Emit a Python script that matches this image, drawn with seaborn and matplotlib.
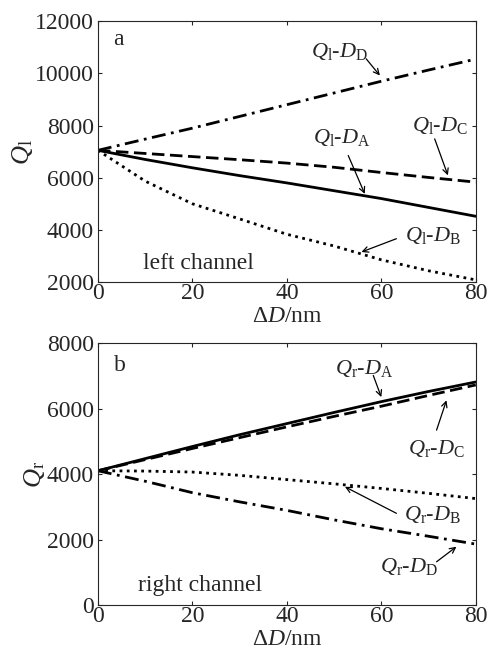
import numpy as np
import pandas as pd
import matplotlib
matplotlib.use('Agg')
import matplotlib.pyplot as plt
import seaborn as sns

dD = [0, 10, 20, 30, 40, 50, 60, 70, 80]

# left channel (panel a)
ql_A = [7050, 6700, 6380, 6080, 5800, 5500, 5200, 4860, 4520]
ql_B = [7050, 5870, 5000, 4420, 3830, 3380, 2850, 2430, 2080]
ql_C = [7050, 6930, 6810, 6690, 6560, 6400, 6200, 6010, 5830]
ql_D = [7050, 7480, 7900, 8350, 8800, 9250, 9700, 10130, 10550]

# right channel (panel b)
qr_A = [4100, 4470, 4840, 5200, 5540, 5880, 6210, 6520, 6810]
qr_B = [4100, 4090, 4060, 3960, 3830, 3700, 3560, 3410, 3250]
qr_C = [4100, 4440, 4780, 5110, 5440, 5760, 6070, 6400, 6720]
qr_D = [4100, 3780, 3430, 3150, 2890, 2600, 2330, 2100, 1860]

df_l = pd.DataFrame({'dD': dD, 'A': ql_A, 'B': ql_B, 'C': ql_C, 'D': ql_D})
df_r = pd.DataFrame({'dD': dD, 'A': qr_A, 'B': qr_B, 'C': qr_C, 'D': qr_D})

sns.set_style('ticks')
plt.rcParams['font.family'] = ['Liberation Serif', 'DejaVu Serif']
plt.rcParams['mathtext.fontset'] = 'custom'
plt.rcParams['mathtext.rm'] = 'Liberation Serif'
plt.rcParams['mathtext.it'] = 'Liberation Serif:italic'
plt.rcParams['xtick.direction'] = 'in'
plt.rcParams['ytick.direction'] = 'in'

styles = {'A': dict(linestyle='-'),
          'B': dict(linestyle=(0, (1, 1.6))),
          'C': dict(linestyle=(0, (4.5, 2))),
          'D': dict(linestyle=(0, (5, 2, 1, 2)))}

fig = plt.figure(figsize=(4.92, 6.55), dpi=100)
ax1 = fig.add_axes([0.199, 0.5695, 0.768, 0.398])
ax2 = fig.add_axes([0.199, 0.0763, 0.768, 0.400])

fs = 17
lfs = 16
arr = dict(arrowstyle='->', color='black', lw=0.9, shrinkA=0, shrinkB=0)


def draw(ax, df):
    for k in ['A', 'B', 'C', 'D']:
        sns.lineplot(data=df, x='dD', y=k, ax=ax, color='black', lw=2, **styles[k])
    ax.set_xlim(0, 80)
    ax.set_xticks([0, 20, 40, 60, 80])
    ax.tick_params(labelsize=fs, top=True, right=True, length=3, width=0.8)
    ax.tick_params(axis='x', pad=1)
    ax.tick_params(axis='y', pad=3)
    for s in ax.spines.values():
        s.set_linewidth(0.8)
    ax.set_xlabel(r'$\Delta D$/nm', fontsize=fs, labelpad=1)


draw(ax1, df_l)
ax1.set_ylim(2000, 12000)
ax1.set_yticks(range(2000, 12001, 2000))
ax1.set_ylabel(r'$Q_\mathrm{l}$', fontsize=fs + 2, labelpad=0)
ax1.text(3.2, 11300, 'a', fontsize=fs, va='center')
ax1.text(9.5, 2700, 'left channel', fontsize=fs, va='center')

ql_lab = [('D', (45.2, 10850), (56.8, 10560), (59.7, 9920)),
          ('C', (66.4, 8000), (71.3, 7490), (74.1, 6090)),
          ('A', (45.5, 7550), (53.0, 6850), (56.5, 5380)),
          ('B', (65.0, 3790), (63.2, 3660), (55.8, 3150))]
for k, txt, a0, a1 in ql_lab:
    ax1.text(txt[0], txt[1], r'$Q_\mathrm{l}$-$D_\mathrm{%s}$' % k, fontsize=lfs, va='center')
    ax1.annotate('', xy=a1, xytext=a0, arrowprops=arr)

draw(ax2, df_r)
ax2.set_ylim(0, 8000)
ax2.set_yticks(range(0, 8001, 2000))
ax2.set_ylabel(r'$Q_\mathrm{r}$', fontsize=fs + 2, labelpad=0)
ax2.text(3.5, 7300, 'b', fontsize=fs, va='center')
ax2.text(8.5, 610, 'right channel', fontsize=fs, va='center')

qr_lab = [('A', (50.1, 7220), (58.3, 7010), (60.0, 6350)),
          ('C', (65.7, 4780), (71.7, 5340), (73.8, 6250)),
          ('B', (64.9, 2750), (63.2, 2800), (52.3, 3610)),
          ('D', (59.7, 1170), (71.7, 1320), (75.9, 1780))]
for k, txt, a0, a1 in qr_lab:
    ax2.text(txt[0], txt[1], r'$Q_\mathrm{r}$-$D_\mathrm{%s}$' % k, fontsize=lfs, va='center')
    ax2.annotate('', xy=a1, xytext=a0, arrowprops=arr)

fig.savefig('out.png', dpi=100)
